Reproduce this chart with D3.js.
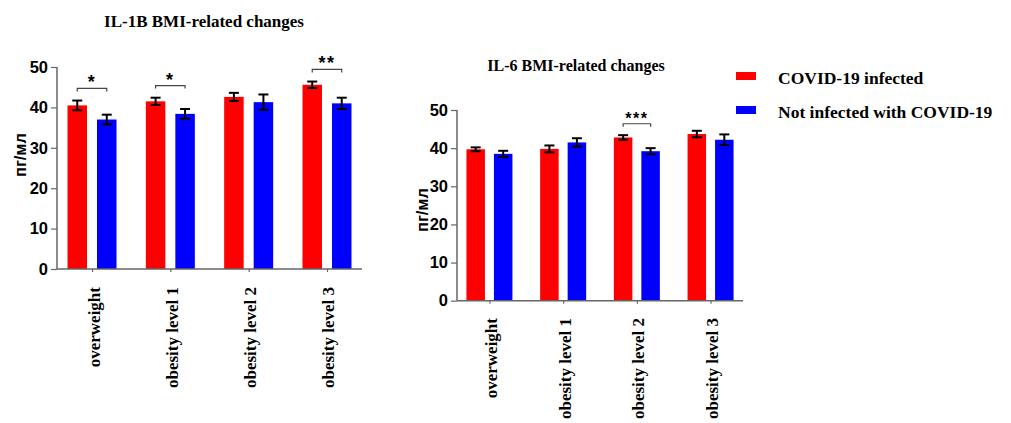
<!DOCTYPE html>
<html><head><meta charset="utf-8">
<script src="https://cdn.jsdelivr.net/npm/d3@7"></script>
<style>html,body{margin:0;padding:0;background:#fff;}svg{display:block;}</style>
</head><body>
<svg id="chart" width="1011" height="423"></svg>
<script>
// ---- data ----
const categories = ["overweight", "obesity level 1", "obesity level 2", "obesity level 3"];
const seriesNames = ["COVID-19 infected", "Not infected with COVID-19"];
const seriesColors = ["#ff0000", "#0000ff"];
const yTicks = [0, 10, 20, 30, 40, 50];

// IL-1B
const il1bInfected = [40.5, 41.5, 42.6, 45.6];
const il1bInfectedErr = [1.2, 0.9, 1.0, 0.8];
const il1bNotInfected = [37.0, 38.4, 41.3, 41.0];
const il1bNotInfectedErr = [1.2, 1.2, 1.9, 1.4];
const il1bSig = [{cat: "overweight", label: "*"}, {cat: "obesity level 1", label: "*"}, {cat: "obesity level 3", label: "**"}];

// IL-6
const il6Infected = [39.7, 39.8, 42.8, 43.7];
const il6InfectedErr = [0.5, 0.9, 0.6, 0.85];
const il6NotInfected = [38.5, 41.5, 39.2, 42.2];
const il6NotInfectedErr = [0.8, 1.1, 0.8, 1.4];
const il6Sig = [{cat: "obesity level 2", label: "***"}];

const svg = d3.select("#chart");

function drawPanel(opt) {
  const g = svg.append("g");
  const x = d3.scalePoint().domain(categories).range([opt.x0, opt.x1]).padding(opt.pad);
  const xs = d3.scaleBand().domain(seriesNames).range([-opt.half, opt.half]).paddingInner(opt.inner);
  const y = d3.scaleLinear().domain([0, 50]).range([opt.yBottom, opt.yTop]);

  const rows = categories.map((c, i) => ({
    cat: c,
    vals: [
      {s: seriesNames[0], v: opt.a[i], e: opt.ae[i], col: seriesColors[0]},
      {s: seriesNames[1], v: opt.b[i], e: opt.be[i], col: seriesColors[1]}
    ]
  }));

  // bars
  const grp = g.selectAll("g.cat").data(rows).join("g")
    .attr("transform", d => `translate(${x(d.cat)},0)`);
  grp.selectAll("rect").data(d => d.vals).join("rect")
    .attr("x", d => xs(d.s))
    .attr("width", xs.bandwidth())
    .attr("y", d => y(d.v))
    .attr("height", d => y(0) - y(d.v))
    .attr("fill", d => d.col);
  // error bars
  const eb = grp.selectAll("g.err").data(d => d.vals).join("g")
    .attr("transform", d => `translate(${xs(d.s) + xs.bandwidth() / 2},0)`)
    .attr("stroke", "#000").attr("stroke-width", 2);
  eb.append("line").attr("y1", d => y(d.v + d.e)).attr("y2", d => y(d.v - d.e));
  eb.append("line").attr("x1", -5).attr("x2", 5).attr("y1", d => y(d.v + d.e)).attr("y2", d => y(d.v + d.e));
  eb.append("line").attr("x1", -5).attr("x2", 5).attr("y1", d => y(d.v - d.e)).attr("y2", d => y(d.v - d.e));

  // axes
  const yAxis = g.append("g").attr("transform", `translate(${opt.x0},0)`)
    .call(d3.axisLeft(y).tickValues(yTicks).tickSize(6).tickPadding(3));
  yAxis.attr("font-size", null).attr("font-family", null);
  yAxis.selectAll("text")
    .attr("font-family", "Liberation Sans, Arial, sans-serif")
    .attr("font-weight", "bold").attr("font-size", 16.5).attr("fill", "#000");
  const xAxis = g.append("g").attr("transform", `translate(0,${opt.yBottom})`)
    .call(d3.axisBottom(x).tickSize(3).tickFormat(""));
  [yAxis, xAxis].forEach(a => {
    a.select(".domain").attr("stroke", "#666").attr("stroke-width", 1.5);
    a.selectAll(".tick line").attr("stroke", "#666").attr("stroke-width", 1.2);
  });
  xAxis.select(".domain").attr("d", `M${opt.x0},0H${opt.x1}`);
  yAxis.select(".domain").attr("d", `M0,${opt.yBottom}V${opt.yTop}`);

  // category labels
  g.selectAll("text.cat").data(categories).join("text")
    .attr("transform", d => `translate(${x(d) + 2},${opt.labelTop}) rotate(-90)`)
    .attr("text-anchor", "end").attr("dominant-baseline", "central")
    .attr("font-family", "Liberation Serif, 'Times New Roman', serif")
    .attr("font-weight", "bold").attr("font-size", 17)
    .text(d => d);

  // y label
  g.append("text")
    .attr("transform", `translate(${opt.yLabelX},${opt.yLabelY}) rotate(-90)`)
    .attr("text-anchor", "middle").attr("dominant-baseline", "central")
    .attr("font-family", "Liberation Sans, Arial, sans-serif")
    .attr("font-weight", "bold").attr("font-size", 16.5)
    .text("пг/мл");

  // title
  g.append("text").attr("x", opt.titleX).attr("y", opt.titleY)
    .attr("text-anchor", "middle")
    .attr("font-family", "Liberation Serif, 'Times New Roman', serif")
    .attr("font-weight", "bold").attr("font-size", opt.titleSize)
    .text(opt.title);

  // significance brackets
  opt.sig.forEach(s => {
    const i = categories.indexOf(s.cat);
    const top = Math.max(opt.a[i] + opt.ae[i], opt.b[i] + opt.be[i]) + 3;
    const xa = x(s.cat) + xs(seriesNames[0]) + xs.bandwidth() / 2;
    const xb = x(s.cat) + xs(seriesNames[1]) + xs.bandwidth() / 2;
    const yy = y(top);
    g.append("path").attr("d", `M${xa},${yy + 3}V${yy}H${xb}V${yy + 3}`)
      .attr("fill", "none").attr("stroke", "#444").attr("stroke-width", 1.2);
    g.append("text").attr("x", (xa + xb) / 2).attr("y", yy + opt.starDy)
      .attr("text-anchor", "middle")
      .attr("font-family", "Liberation Sans, Arial, sans-serif")
      .attr("font-weight", "bold").attr("font-size", opt.starSize)
      .attr("letter-spacing", "1.5px")
      .text(s.label);
  });
}

drawPanel({
  x0: 57, x1: 362, pad: 0.447, half: 24.5, inner: 0.339,
  yBottom: 269, yTop: 67,
  a: il1bInfected, ae: il1bInfectedErr, b: il1bNotInfected, be: il1bNotInfectedErr,
  sig: il1bSig, starDy: 0, starSize: 18,
  labelTop: 287, yLabelX: 20, yLabelY: 155,
  title: "IL-1B BMI-related changes", titleX: 204, titleY: 27, titleSize: 17
});

drawPanel({
  x0: 457, x1: 743, pad: 0.44, half: 23, inner: 0.327,
  yBottom: 300.7, yTop: 110,
  a: il6Infected, ae: il6InfectedErr, b: il6NotInfected, be: il6NotInfectedErr,
  sig: il6Sig, starDy: 0, starSize: 16,
  labelTop: 318, yLabelX: 422, yLabelY: 210,
  title: "IL-6 BMI-related changes", titleX: 576, titleY: 71, titleSize: 16
});

// legend
const leg = svg.append("g");
const legY = [76, 110];
seriesNames.forEach((n, i) => {
  leg.append("rect").attr("x", 736).attr("y", legY[i] - 4).attr("width", 20).attr("height", 8)
    .attr("fill", seriesColors[i]);
  leg.append("text").attr("x", 778).attr("y", legY[i] + 8)
    .attr("font-family", "Liberation Serif, 'Times New Roman', serif")
    .attr("font-weight", "bold").attr("font-size", 17.5)
    .text(n);
});
</script>
</body></html>
